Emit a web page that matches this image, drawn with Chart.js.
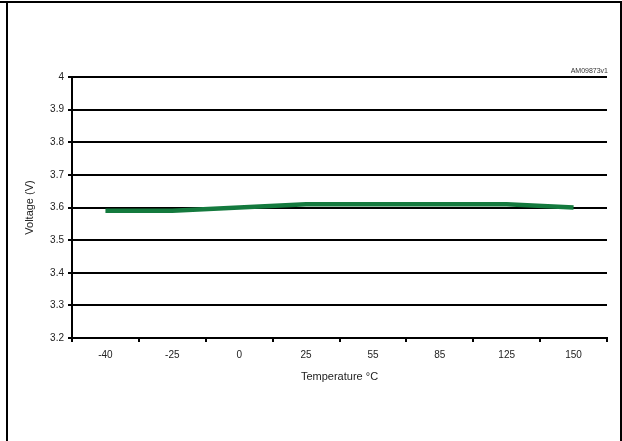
<!DOCTYPE html>
<html>
<head>
<meta charset="utf-8">
<script src="https://cdn.jsdelivr.net/npm/chart.js@4.4.1/dist/chart.umd.min.js"></script>
<style>
  html, body { margin: 0; padding: 0; background: #fff; }
  #wrap { position: relative; width: 622px; height: 441px; }
  #frame {
    position: absolute; left: 6px; top: 1px; width: 612px; height: 440px;
    border-top: 2px solid #000; border-left: 2px solid #000; border-right: 2px solid #000;
  }
  #topline { position: absolute; left: 0; top: 1px; width: 8px; height: 2px; background: #000; }
  canvas { position: absolute; left: 0; top: 0; }
</style>
</head>
<body>
<div id="wrap">
  <div id="frame"></div>
  <div id="topline"></div>
  <canvas id="myChart" width="622" height="441"></canvas>
</div>
<script>
'use strict';

let temps = ['-40', '-25', '0', '25', '55', '85', '125', '150'];
let voltage = [3.59, 3.59, 3.60, 3.61, 3.61, 3.61, 3.61, 3.60];
let yMin = 3.2;
let yMax = 4;
let yStep = 0.1;

Chart.defaults.font.family = '"Liberation Sans", Arial, sans-serif';
Chart.defaults.color = '#222';

// little code printed above the plot, top right
let codeLabel = {
  id: 'codeLabel',
  afterDraw(chart) {
    let ctx = chart.ctx;
    let area = chart.chartArea;
    ctx.save();
    ctx.font = '7px "Liberation Sans", Arial, sans-serif';
    ctx.fillStyle = '#333';
    ctx.textAlign = 'right';
    ctx.textBaseline = 'middle';
    ctx.fillText('AM09873v1', area.right + 1, area.top - 6);
    ctx.restore();
  }
};

let ctx = document.getElementById('myChart').getContext('2d');
new Chart(ctx, {
  type: 'line',
  data: {
    labels: temps,
    datasets: [{
      label: 'Voltage',
      data: voltage,
      borderColor: '#147a3e',
      borderWidth: 4.5,
      pointRadius: 0,
      tension: 0,
      fill: false
    }]
  },
  options: {
    responsive: false,
    animation: false,
    layout: { padding: { left: 23, top: 77, right: 15, bottom: 57 } },
    plugins: {
      legend: { display: false },
      tooltip: { enabled: false }
    },
    scales: {
      x: {
        offset: true,
        grid: {
          offset: true,
          drawOnChartArea: false,
          drawTicks: true,
          tickLength: 4,
          color: '#000',
          lineWidth: 2
        },
        border: { color: '#000', width: 2 },
        ticks: { font: { size: 10 }, padding: 7, maxRotation: 0, autoSkip: false },
        title: { display: true, text: 'Temperature °C', font: { size: 11 }, padding: 0 },
        afterFit(scale) { scale.height = 46; }
      },
      y: {
        min: yMin,
        max: yMax,
        grid: {
          color: '#000',
          lineWidth: 2,
          drawTicks: true,
          tickLength: 4
        },
        border: { color: '#000', width: 2 },
        ticks: {
          stepSize: yStep,
          font: { size: 10 },
          padding: 4,
          callback: (v) => Math.round(v * 10) / 10
        },
        title: { display: true, text: 'Voltage (V)', font: { size: 11 }, padding: 0 },
        afterFit(scale) { scale.width = 49; }
      }
    }
  },
  plugins: [codeLabel]
});
</script>
</body>
</html>
